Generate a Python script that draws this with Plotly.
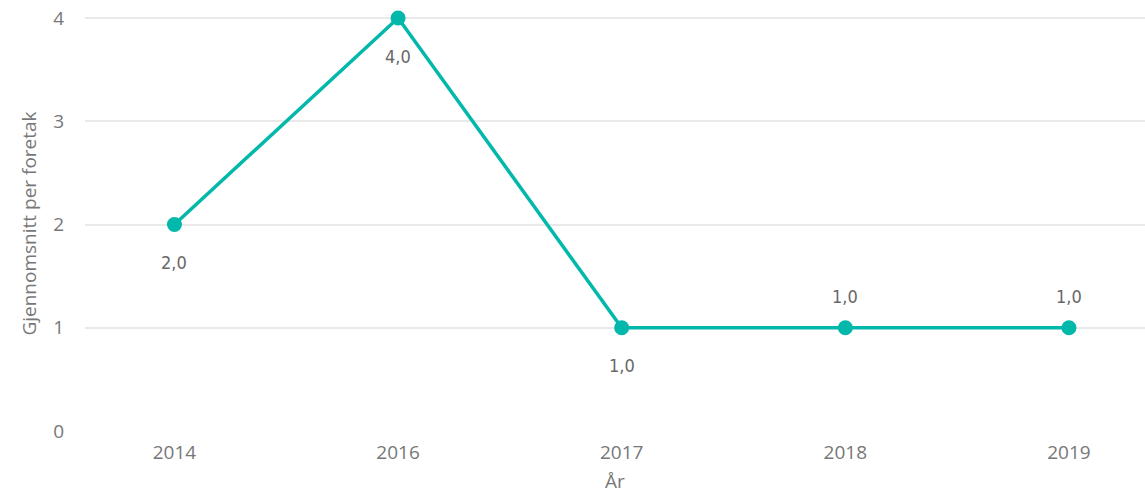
import plotly.graph_objects as go

# Data
years = ["2014", "2016", "2017", "2018", "2019"]
avg_per_company = [2.0, 4.0, 1.0, 1.0, 1.0]
label_above = [False, False, False, True, True]
y_ticks = [0, 1, 2, 3, 4]

LINE_COLOR = "#01B8AA"
GRID_COLOR = "#E9E9E9"
TEXT_COLOR = "#777777"
LABEL_COLOR = "#686868"

fig = go.Figure()

fig.add_trace(
    go.Scatter(
        x=years,
        y=avg_per_company,
        mode="lines+markers",
        line=dict(color=LINE_COLOR, width=3.5),
        marker=dict(color=LINE_COLOR, size=15),
        cliponaxis=False,
        hovertemplate="%{x}: %{y:.1f}<extra></extra>",
    )
)

# Data labels, placed above or below each point (x given as category index)
for i, (val, above) in enumerate(zip(avg_per_company, label_above)):
    fig.add_annotation(
        x=i,
        y=val,
        text=f"{val:.1f}".replace(".", ","),
        showarrow=False,
        yshift=31 if above else -38,
        font=dict(family="DejaVu Sans Condensed", size=18, color=LABEL_COLOR),
    )

fig.update_layout(
    width=1145,
    height=494,
    paper_bgcolor="white",
    plot_bgcolor="white",
    font=dict(family="Open Sans", color=TEXT_COLOR, size=19),
    margin=dict(l=85, r=0, t=16, b=63),
    showlegend=False,
    xaxis=dict(
        type="category",
        range=[-0.4, 4.34],
        showgrid=False,
        zeroline=False,
        showline=False,
        ticks="",
        automargin=False,
        ticklabelstandoff=8,
        tickfont=dict(size=19, color=TEXT_COLOR),
        title=dict(text="År", font=dict(size=19, color=TEXT_COLOR), standoff=10),
    ),
    yaxis=dict(
        range=[0, 4.02],
        tickvals=y_ticks,
        gridcolor=GRID_COLOR,
        gridwidth=1.5,
        zeroline=False,
        showline=False,
        ticks="",
        automargin=False,
        ticklabeloverflow="allow",
        ticklabelstandoff=20,
        tickfont=dict(size=19, color=TEXT_COLOR),
        title=dict(text="Gjennomsnitt per foretak", font=dict(size=19, color=TEXT_COLOR), standoff=11),
    ),
)

# drop the browser's default 8px body margin so the figure fills the window
fig.write_html(
    "out.html",
    config={"displayModeBar": False},
    post_script="document.body.style.margin = '0';",
)
